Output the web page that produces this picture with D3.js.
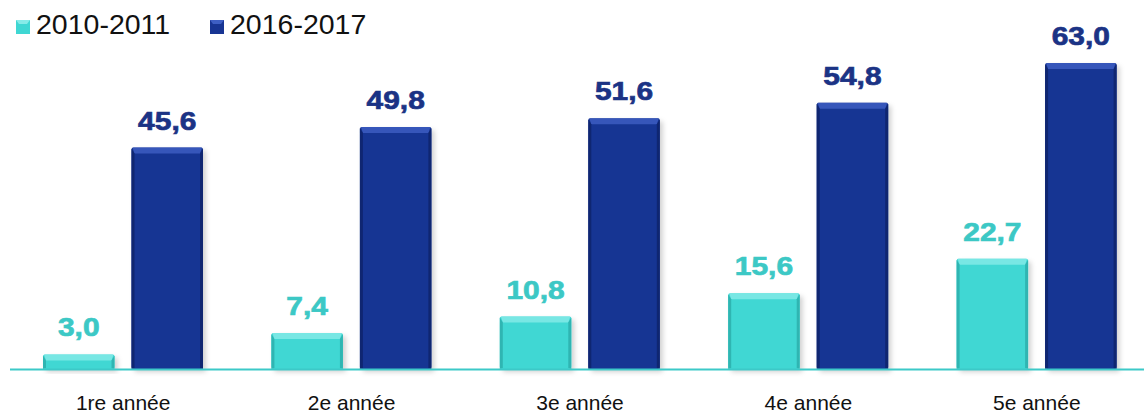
<!DOCTYPE html>
<html><head><meta charset="utf-8">
<script src="https://cdn.jsdelivr.net/npm/d3@7/dist/d3.min.js"></script>
<style>body{margin:0;background:#fff}svg{display:block}</style>
</head><body><svg id="c" width="1144" height="415"></svg>
<script>
const categories = ["1re année","2e année","3e année","4e année","5e année"];
const seriesNames = ["2010-2011","2016-2017"];
const values2010 = [3.0, 7.4, 10.8, 15.6, 22.7];
const values2016 = [45.6, 49.8, 51.6, 54.8, 63.0];

const W = 1144, H = 415, baseY = 369;
const svg = d3.select("#c");
const defs = svg.append("defs");
const f = defs.append("filter").attr("id","sh").attr("x","-20%").attr("y","-20%").attr("width","150%").attr("height","150%");
f.append("feDropShadow").attr("dx",3).attr("dy",3).attr("stdDeviation",2.5).attr("flood-color","#000").attr("flood-opacity",0.18);

const styles = [
  {body:"#3fd7d3", top:"#86ebe8", side:"#2fb5b2", text:"#3cc8c5"},
  {body:"#183593", top:"#3e5fc4", side:"#0f2671", text:"#1b3385"}
];

const x0 = d3.scaleBand().domain(categories).range([9, 1151]).padding(0);
const x1 = d3.scaleBand().domain(seriesNames).range([34, 194]).paddingInner(0.192).paddingOuter(0);
const y = d3.scaleLinear().domain([0, 63]).range([baseY, 63]);
const loc = d3.formatLocale({decimal:",", thousands:" ", grouping:[3], currency:["","€"]});
const fmt = loc.format(".1f");

const data = categories.map((c,i)=>({cat:c, vals:[values2010[i], values2016[i]]}));

const g = svg.append("g");
data.forEach(d=>{
  d.vals.forEach((v,si)=>{
    const st = styles[si];
    const bx = x0(d.cat) + x1(seriesNames[si]);
    const bw = x1.bandwidth();
    const by = y(v), bh = baseY - by;
    const bar = g.append("g");
    bar.append("rect").attr("x",bx).attr("y",by).attr("width",bw).attr("height",bh)
      .attr("rx",2).attr("fill",st.body).attr("filter","url(#sh)");
    const b = Math.min(6, bh/2);
    const s = 3;
    bar.append("path").attr("d",`M${bx+1},${by} L${bx+bw-1},${by} L${bx+bw-s},${by+b} L${bx+s},${by+b} Z`).attr("fill",st.top).attr("opacity",0.8);
    bar.append("path").attr("d",`M${bx},${by+1} L${bx+s},${by+b} L${bx+s},${baseY-1} L${bx},${baseY} Z`).attr("fill",st.side);
    bar.append("path").attr("d",`M${bx+bw},${by+1} L${bx+bw-s},${by+b} L${bx+bw-s},${baseY-1} L${bx+bw},${baseY} Z`).attr("fill",st.side);
    const tx = bx + bw/2, ty = by - 18;
    g.append("text").attr("transform",`translate(${tx},${ty}) scale(1.13,1)`)
      .attr("text-anchor","middle").attr("font-family","Liberation Sans, Arial, sans-serif")
      .attr("font-weight","bold").attr("font-size",26.5).attr("fill",st.text)
      .attr("stroke",st.text).attr("stroke-width",0.7).text(fmt(v));
  });
});

svg.append("line").attr("x1",10).attr("x2",W).attr("y1",baseY+0.5).attr("y2",baseY+0.5)
  .attr("stroke","#3cc9c8").attr("stroke-width",2);

svg.append("g").selectAll("text").data(categories).join("text")
  .attr("x",d=>x0(d)+x0.bandwidth()/2).attr("y",410)
  .attr("text-anchor","middle").attr("font-family","Liberation Sans, Arial, sans-serif")
  .attr("font-size",21).attr("fill","#111").text(d=>d);

const legX = [16, 210];
const lg = svg.append("g");
seriesNames.forEach((n,i)=>{
  const st = styles[i];
  lg.append("rect").attr("x",legX[i]).attr("y",20).attr("width",14).attr("height",14).attr("fill",st.body);
  lg.append("path").attr("d",`M${legX[i]},20 L${legX[i]+14},20 L${legX[i]+11},24 L${legX[i]+3},24 Z`).attr("fill",st.top);
  lg.append("text").attr("x",legX[i]+20).attr("y",34).attr("font-family","Liberation Sans, Arial, sans-serif")
    .attr("font-size",28.5).attr("fill","#111").text(n);
});
</script></body></html>
